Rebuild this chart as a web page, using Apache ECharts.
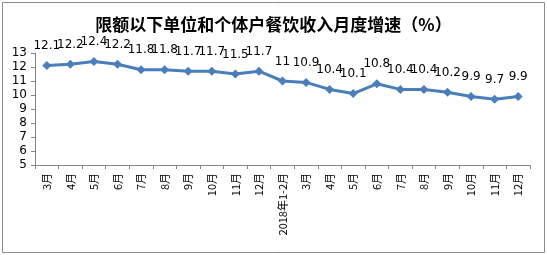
<!DOCTYPE html>
<html><head><meta charset="utf-8">
<script src="https://cdn.jsdelivr.net/npm/echarts@6/dist/echarts.min.js"></script>
<style>html,body{margin:0;padding:0;background:#fff}#c{width:547px;height:255px}</style>
</head><body><div id="c"></div>
<script>
var titleText = '限额以下单位和个体户餐饮收入月度增速（%）';
var categories = ['3月','4月','5月','6月','7月','8月','9月','10月','11月','12月','2018年1-2月','3月','4月','5月','6月','7月','8月','9月','10月','11月','12月'];
var values = [12.1,12.2,12.4,12.2,11.8,11.8,11.7,11.7,11.5,11.7,11,10.9,10.4,10.1,10.8,10.4,10.4,10.2,9.9,9.7,9.9];
var yMin = 5, yMax = 13, yInterval = 1;
var chart = echarts.init(document.getElementById('c'));
chart.setOption({
  animation:false,
  backgroundColor:'#fff',
  graphic:[{type:'rect',shape:{x:2.5,y:2.5,width:542,height:250},style:{fill:'none',stroke:'#8c8c8c',lineWidth:1}}],
  title:{text:titleText,left:'center',top:11,textStyle:{fontFamily:'Noto Sans CJK SC',fontSize:17,fontWeight:'bold',color:'#000'}},
  grid:{left:35,right:17,top:53,bottom:90},
  xAxis:{type:'category',data:categories,boundaryGap:true,
    axisLine:{lineStyle:{color:'#868686'}},
    axisTick:{show:true,length:4,inside:false,lineStyle:{color:'#868686'}},
    axisLabel:{rotate:90,interval:0,fontSize:11,color:'#000',fontFamily:'Noto Sans CJK SC',margin:8}},
  yAxis:{type:'value',min:yMin,max:yMax,interval:yInterval,
    splitLine:{show:false},
    axisLine:{show:true,lineStyle:{color:'#868686'}},
    axisTick:{show:true,length:4,lineStyle:{color:'#868686'}},
    axisLabel:{fontSize:12,color:'#000',fontFamily:'DejaVu Sans',margin:8}},
  series:[{type:'line',data:values,symbol:'diamond',symbolSize:9,
    lineStyle:{color:'#4a7ebb',width:3},itemStyle:{color:'#4a7ebb'},
    label:{show:true,position:'top',distance:9,fontSize:12,color:'#000',fontFamily:'DejaVu Sans'}}]
});
</script></body></html>
